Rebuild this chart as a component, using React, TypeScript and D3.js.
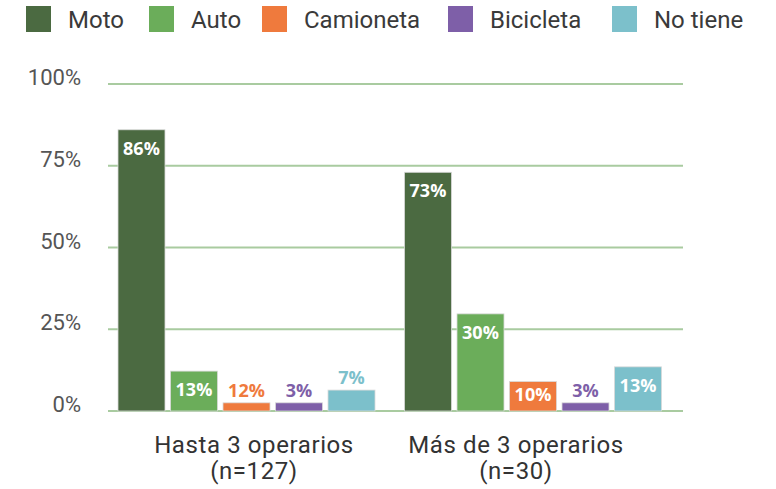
import React from "react";
import * as d3 from "d3";

const groups = ["Hasta 3 operarios", "Más de 3 operarios"];
const groupN = ["(n=127)", "(n=30)"];
const series = ["Moto", "Auto", "Camioneta", "Bicicleta", "No tiene"];
const colors = ["#4b6a41", "#6bad5a", "#ef7a3d", "#7e5fa8", "#7cc0cb"];
// bar heights as drawn in the reference (percent)
const heightsHasta = [86, 12.2, 2.5, 2.5, 6.4];
const heightsMas = [73, 29.7, 9, 2.5, 13.5];
// printed labels
const labelsHasta = ["86%", "13%", "12%", "3%", "7%"];
const labelsMas = ["73%", "30%", "10%", "3%", "13%"];
const yTicks = [0, 25, 50, 75, 100];

const W = 776;
const H = 489;

export default function App() {
  const y = d3.scaleLinear().domain([0, 100]).range([411, 84]);
  const xG = d3.scaleBand().domain(groups).range([103.25, 676.25]);
  const xS = d3.scaleBand().domain(series).range([0, 257]).paddingInner(0.105).paddingOuter(0);
  const heights = [heightsHasta, heightsMas];
  const labels = [labelsHasta, labelsMas];
  const labelShift = [7.5, -17];
  const legendSq = [26, 149, 262, 448, 612];
  const font = "Roboto, 'Noto Sans', sans-serif";
  const labelFont = "'Open Sans', Lato, sans-serif";

  return (
    <svg width={W} height={H} style={{ position: "absolute", left: 0, top: 0, background: "#fff" }}>
      {/* legend */}
      {series.map((s, i) => (
        <g key={s}>
          <rect x={legendSq[i]} y={6} width={25} height={26} fill={colors[i]} />
          <text x={legendSq[i] + 42} y={28} fontFamily={font} fontSize={24} fill="#3a3a3a">
            {s}
          </text>
        </g>
      ))}
      {/* grid */}
      {yTicks.map((t) => (
        <g key={t}>
          <line x1={108} x2={683} y1={y(t)} y2={y(t)} stroke="#a9cba0" strokeWidth={2} />
          <text x={81} y={y(t) + 1} textAnchor="end" fontFamily={font} fontSize={22} fill="#555">
            {t}%
          </text>
        </g>
      ))}
      {/* bars */}
      {groups.map((g, gi) => {
        const center = (xG(g) as number) + xG.bandwidth() / 2;
        const x0 = center - 128.5;
        return (
          <g key={g}>
            {series.map((s, si) => {
              const v = heights[gi][si];
              const bx = x0 + (xS(s) as number);
              const top = y(v);
              const h = y(0) - top;
              const inside = h > 25;
              const ly = inside ? Math.min(top + 25, y(0) - 10) : top - 6;
              return (
                <g key={s}>
                  <rect x={bx} y={top} width={xS.bandwidth()} height={h} fill={colors[si]} stroke="#d9d9d9" strokeWidth={0.8} />
                  <text
                    x={bx + xS.bandwidth() / 2}
                    y={ly}
                    textAnchor="middle"
                    fontFamily={labelFont}
                    fontWeight={700}
                    fontSize={18}
                    fill={inside ? "#ffffff" : colors[si]}
                  >
                    {labels[gi][si]}
                  </text>
                </g>
              );
            })}
            <text x={center + labelShift[gi]} y={453} textAnchor="middle" fontFamily={font} fontSize={24} letterSpacing={0.6} fill="#333">
              {g}
            </text>
            <text x={center + labelShift[gi]} y={479} textAnchor="middle" fontFamily={font} fontSize={24} letterSpacing={0.6} fill="#333">
              {groupN[gi]}
            </text>
          </g>
        );
      })}
    </svg>
  );
}
